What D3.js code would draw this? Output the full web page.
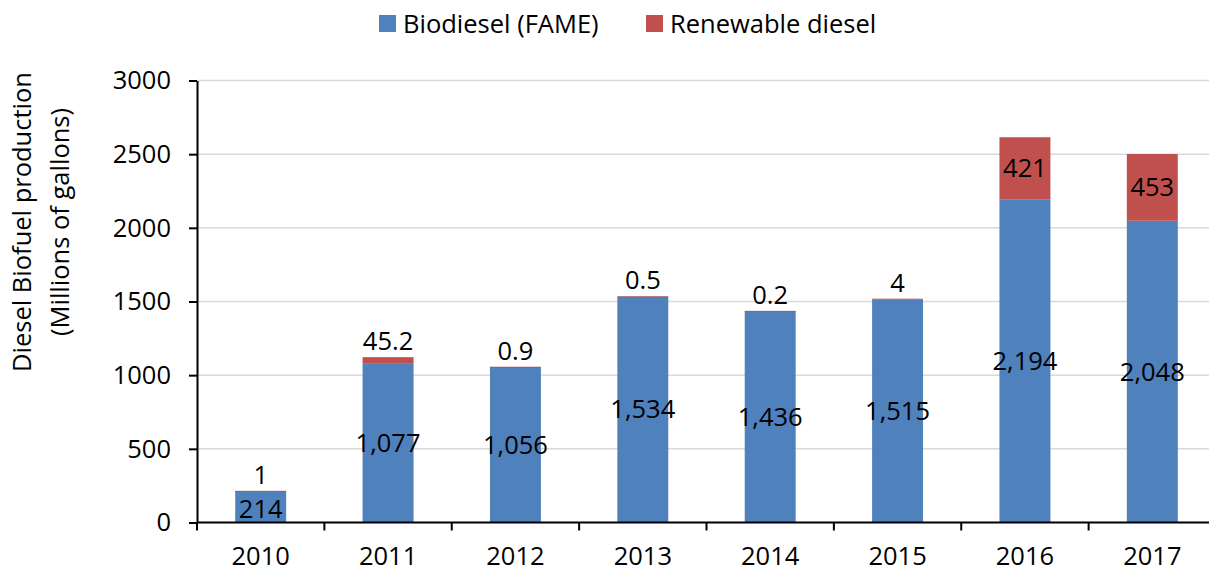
<!DOCTYPE html>
<html><head><meta charset="utf-8">
<script src="https://cdn.jsdelivr.net/npm/d3@7"></script>
<style>body{margin:0;background:#fff}svg{display:block}text{font-family:"Open Sans",sans-serif;fill:#000}</style>
</head><body><svg id="c" width="1209" height="571"></svg>
<script>
const years = ["2010","2011","2012","2013","2014","2015","2016","2017"];
const biodiesel = [214,1077,1056,1534,1436,1515,2194,2048];
const renewable = [1,45.2,0.9,0.5,0.2,4,421,453];
const yTicks = [0,500,1000,1500,2000,2500,3000];
const seriesNames = ["Biodiesel (FAME)","Renewable diesel"];
const colors = ["#4F81BD","#C0504D"];

const svg = d3.select("#c");
const x = d3.scaleBand().domain(years).range([197,1216]).paddingInner(0.6).paddingOuter(0.3);
const y = d3.scaleLinear().domain([0,3000]).range([522.5,80.5]);
const fs = 25.5;

// gridlines
svg.append("g").selectAll("line").data(yTicks.slice(1)).join("line")
  .attr("x1",197).attr("x2",1209).attr("y1",d=>y(d)).attr("y2",d=>y(d))
  .attr("stroke","#d9d9d9").attr("stroke-width",1.5);

// bars
const rows = years.map((yr,i)=>({yr,b:biodiesel[i],r:renewable[i]}));
const g = svg.append("g");
g.selectAll("rect.b").data(rows).join("rect").attr("class","b")
  .attr("x",d=>x(d.yr)).attr("width",x.bandwidth())
  .attr("y",d=>y(d.b)).attr("height",d=>y(0)-y(d.b)).attr("fill",colors[0]);
g.selectAll("rect.r").data(rows).join("rect").attr("class","r")
  .attr("x",d=>x(d.yr)).attr("width",x.bandwidth())
  .attr("y",d=>y(d.b+d.r)).attr("height",d=>Math.max(y(d.b)-y(d.b+d.r),0.8)).attr("fill",colors[1]);

// axes
const yAxis = d3.axisLeft(y).tickValues(yTicks).tickSize(8).tickSizeOuter(0).tickFormat(d3.format("d"));
const ya = svg.append("g").attr("transform","translate(197,0)").call(yAxis);
ya.select(".domain").attr("stroke","#000").attr("stroke-width",2);
ya.selectAll(".tick line").attr("stroke","#000").attr("stroke-width",2);
ya.selectAll(".tick text").attr("font-size",fs).attr("x",-26).style("font-family","'Open Sans',sans-serif").attr("fill","#000");

const xa = svg.append("g").attr("transform","translate(0,522.5)");
xa.append("line").attr("x1",197).attr("x2",1209).attr("stroke","#000").attr("stroke-width",2);
const step = x.step();
const bounds = d3.range(0,years.length+1).map(i=>197+i*step);
xa.selectAll("line.t").data(bounds.filter(b=>b<1209)).join("line").attr("class","t")
  .attr("x1",d=>d).attr("x2",d=>d).attr("y1",0).attr("y2",8).attr("stroke","#000").attr("stroke-width",2);
xa.selectAll("text").data(years).join("text")
  .attr("x",d=>x(d)+x.bandwidth()/2).attr("y",42).attr("text-anchor","middle").attr("font-size",fs).text(d=>d);

// value labels
const fmt = d3.format(",");
g.selectAll("text.lb").data(rows).join("text").attr("class","lb")
  .attr("x",d=>x(d.yr)+x.bandwidth()/2).attr("y",d=>(y(0)+y(d.b))/2 + (d.b<300?2:0)).attr("dy","0.35em")
  .attr("text-anchor","middle").attr("font-size",fs).text(d=>fmt(d.b));
g.selectAll("text.lr").data(rows).join("text").attr("class","lr")
  .attr("x",d=>x(d.yr)+x.bandwidth()/2)
  .attr("y",d=>d.r>100 ? (y(d.b)+y(d.b+d.r))/2 : y(d.b+d.r)-16).attr("dy","0.35em")
  .attr("text-anchor","middle").attr("font-size",fs).text(d=>String(d.r));

// y title
const yt = svg.append("text").attr("transform","translate(0,222) rotate(-90)").attr("text-anchor","middle").attr("font-size",fs);
yt.append("tspan").attr("x",0).attr("y",31).text("Diesel Biofuel production");
yt.append("tspan").attr("x",0).attr("y",69).text("(Millions of gallons)");

// legend
const lg = svg.append("g");
const lx = [379,646];
seriesNames.forEach((n,i)=>{
  lg.append("rect").attr("x",lx[i]).attr("y",15).attr("width",17).attr("height",17).attr("fill",colors[i]);
  lg.append("text").attr("x",lx[i]+24).attr("y",24).attr("dy","0.35em").attr("font-size",fs).text(n);
});
</script></body></html>
